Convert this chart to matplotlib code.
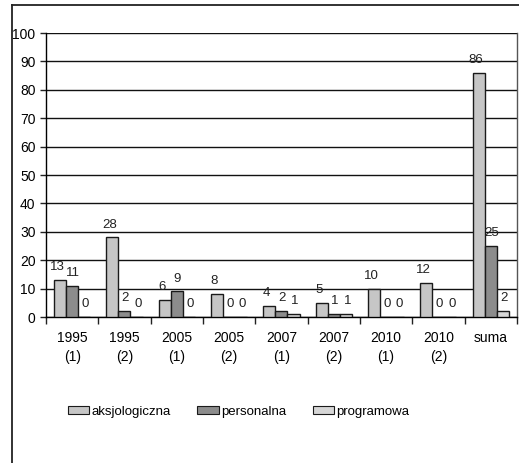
import matplotlib
matplotlib.use("Agg")
import matplotlib.pyplot as plt
import numpy as np
from matplotlib.lines import Line2D

categories = ["1995\n(1)", "1995\n(2)", "2005\n(1)", "2005\n(2)", "2007\n(1)",
              "2007\n(2)", "2010\n(1)", "2010\n(2)", "suma"]
aksjologiczna = [13, 28, 6, 8, 4, 5, 10, 12, 86]
personalna = [11, 2, 9, 0, 2, 1, 0, 0, 25]
programowa = [0, 0, 0, 0, 1, 1, 0, 0, 2]
series_names = ["aksjologiczna", "personalna", "programowa"]
y_ticks = list(range(0, 101, 10))

colors = ["#c6c6c6", "#8c8c8c", "#d6d6d6"]
label_dx = [-2.0, 0.5, 1.0]

plt.rcParams["font.family"] = ["Liberation Sans", "DejaVu Sans"]

fig = plt.figure(figsize=(5.19, 4.63), dpi=100)
ax = fig.add_axes([0.0886, 0.3153, 0.9074, 0.6134])

x = np.arange(len(categories))
w = 0.23
for i, (vals, name, c) in enumerate(zip([aksjologiczna, personalna, programowa],
                                        series_names, colors)):
    pos = x + (i - 1) * w
    ax.bar(pos, vals, width=w, color=c, edgecolor="#1a1a1a",
           linewidth=1.0, label=name, zorder=3)
    for xp, v in zip(pos, vals):
        ax.annotate(str(v), (xp, v), xytext=(label_dx[i], 5),
                    textcoords="offset points", ha="center", va="bottom",
                    fontsize=9.5, color="#222222")

ax.set_xlim(-0.5, len(categories) - 0.5)
ax.set_ylim(0, 100)
ax.set_yticks(y_ticks)
ax.yaxis.grid(True, color="#111111", linewidth=1.0, zorder=0)
ax.set_xticks(x)
ax.set_xticklabels(categories, fontsize=10, linespacing=1.45)
ax.set_xticks(np.arange(-0.5, len(categories)), minor=True)
ax.tick_params(axis="x", which="major", length=0, pad=10)
ax.tick_params(axis="x", which="minor", length=5, width=1.0, color="#222222")
ax.tick_params(axis="y", length=4, width=1.0, labelsize=10, color="#222222")

ax.spines["top"].set_visible(False)
ax.spines["left"].set_linewidth(1.0)
ax.spines["bottom"].set_linewidth(1.0)
ax.spines["right"].set_linewidth(1.0)
ax.spines["right"].set_color("#555555")

# outer chart frame
fig.add_artist(Line2D([0.023, 0.023], [0.0, 0.989], color="#222222", lw=1.3,
                      transform=fig.transFigure))
fig.add_artist(Line2D([0.023, 1.0], [0.989, 0.989], color="#222222", lw=1.3,
                      transform=fig.transFigure))

leg = fig.legend(loc="center", bbox_to_anchor=(0.46, 0.11), ncol=3, frameon=False,
                 fontsize=9.5, handlelength=1.6, handleheight=0.55,
                 handletextpad=0.2, columnspacing=2.0)
for h in leg.legend_handles:
    h.set_linewidth(0.8)

fig.savefig("out.png", dpi=100, facecolor="white")
